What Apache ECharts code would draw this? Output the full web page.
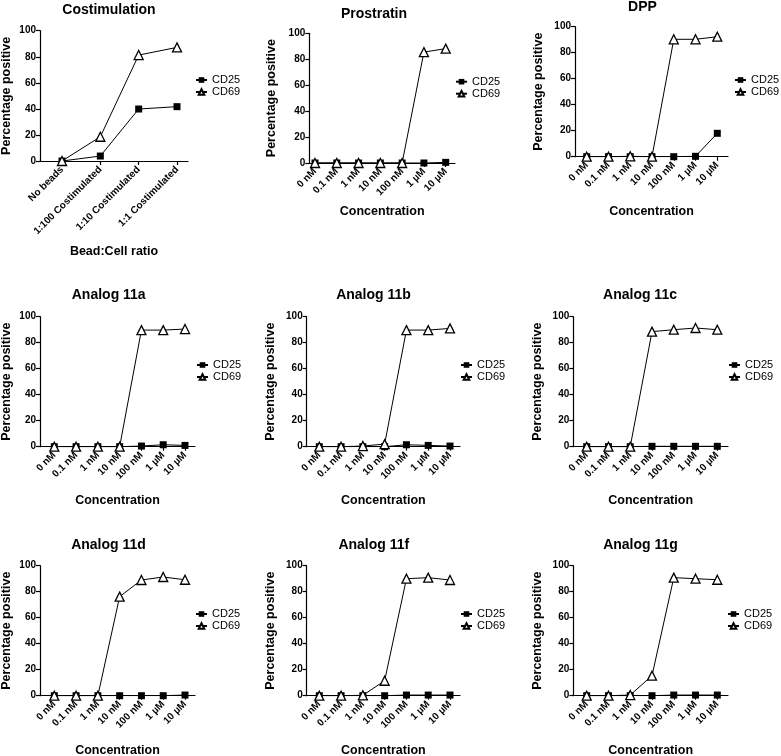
<!DOCTYPE html>
<html><head><meta charset="utf-8">
<script src="https://cdn.jsdelivr.net/npm/echarts@6/dist/echarts.min.js"></script>
<style>html,body{margin:0;padding:0;background:#fff}#c{width:781px;height:756px}</style>
</head><body><div id="c"></div>
<script>
// ---- categories ----
const costimCats = ['No beads', '1:100 Costimulated', '1:10 Costimulated', '1:1 Costimulated'];
const concCats = ['0 nM', '0.1 nM', '1 nM', '10 nM', '100 nM', '1 µM', '10 µM'];
const seriesNames = ['CD25', 'CD69'];

// ---- values (percentage positive) ----
const costimCD25 = [0, 3.8, 39.9, 41.7];
const costimCD69 = [0, 18.6, 81.3, 87.2];
const prostratinCD25 = [0, 0, 0, 0, 0, 0, 0.5];
const prostratinCD69 = [0, 0, 0, 0, 0, 85.5, 88.2];
const dppCD25 = [0, 0, 0, 0, 0, 0.3, 18];
const dppCD69 = [0, 0, 0.3, 0, 90.3, 90.3, 92.3];
const a11aCD25 = [0, 0, 0, 0, 0.5, 1.5, 1];
const a11aCD69 = [0, 0, 0, 0, 89.7, 89.7, 90.5];
const a11bCD25 = [0, 0, 0, 0, 1.5, 1, 0.5];
const a11bCD69 = [0, 0, 0.5, 2, 89.7, 89.7, 91];
const a11cCD25 = [0, 0, 0, 0.3, 0.3, 0.3, 0.3];
const a11cCD69 = [0, 0, 0, 88.5, 90, 91.3, 90];
const a11dCD25 = [0, 0, 0, 0, 0, 0, 0.5];
const a11dCD69 = [0, 0, 0, 76.2, 89, 91.3, 89.2];
const a11fCD25 = [0, 0, 0, 0, 0.5, 0.5, 0.5];
const a11fCD69 = [0, 0, 0.3, 11.5, 90, 90.8, 89];
const a11gCD25 = [0, 0, 0, 0, 0.5, 0.5, 0.5];
const a11gCD69 = [0, 0, 0.5, 15.4, 90.8, 90, 89.2];

const FONT = '"Liberation Sans", Arial, Helvetica, sans-serif';

// layout (pixels) per panel
const panels = [
  {title:'Costimulation', cats:costimCats, cd25:costimCD25, cd69:costimCD69, xName:'Bead:Cell ratio',
   axisX:40, firstX:62, lastX:177, endX:188, top:30.7, bottom:161, titleX:109, titleY:10, yNameGap:26.7, xNameGap:84, legX:195, legY:74},
  {title:'Prostratin', cats:concCats, cd25:prostratinCD25, cd69:prostratinCD69, xName:'Concentration',
   axisX:309.3, firstX:315, lastX:445.7, endX:455, top:33.3, bottom:163, titleX:374, titleY:14, yNameGap:31, xNameGap:42, legX:455, legY:75.7},
  {title:'DPP', cats:concCats, cd25:dppCD25, cd69:dppCD69, xName:'Concentration',
   axisX:575, firstX:586.7, lastX:717.3, endX:728, top:26.7, bottom:156.7, titleX:642.5, titleY:7.3, yNameGap:30, xNameGap:48.5, legX:734, legY:74},
  {title:'Analog 11a', cats:concCats, cd25:a11aCD25, cd69:a11aCD69, xName:'Concentration',
   axisX:40, firstX:54.3, lastX:185, endX:195, top:316.7, bottom:446.7, titleX:108.7, titleY:295, yNameGap:26.7, xNameGap:47, legX:196, legY:359},
  {title:'Analog 11b', cats:concCats, cd25:a11bCD25, cd69:a11bCD69, xName:'Concentration',
   axisX:306.7, firstX:319.3, lastX:450, endX:460, top:316.7, bottom:446.7, titleX:373.5, titleY:295.5, yNameGap:30, xNameGap:47, legX:460, legY:359},
  {title:'Analog 11c', cats:concCats, cd25:a11cCD25, cd69:a11cCD69, xName:'Concentration',
   axisX:573.3, firstX:586.7, lastX:717.3, endX:728, top:316.7, bottom:446.7, titleX:640, titleY:295, yNameGap:29, xNameGap:47, legX:728, legY:359},
  {title:'Analog 11d', cats:concCats, cd25:a11dCD25, cd69:a11dCD69, xName:'Concentration',
   axisX:40, firstX:54.3, lastX:185, endX:195, top:565.7, bottom:695.7, titleX:108.5, titleY:545, yNameGap:26.7, xNameGap:48, legX:195, legY:608},
  {title:'Analog 11f', cats:concCats, cd25:a11fCD25, cd69:a11fCD69, xName:'Concentration',
   axisX:306.7, firstX:319.3, lastX:450, endX:460, top:565.7, bottom:695.7, titleX:373.8, titleY:545, yNameGap:30, xNameGap:48, legX:460, legY:608},
  {title:'Analog 11g', cats:concCats, cd25:a11gCD25, cd69:a11gCD69, xName:'Concentration',
   axisX:573.3, firstX:586.7, lastX:717.3, endX:728, top:565.7, bottom:695.7, titleX:640.5, titleY:545, yNameGap:29, xNameGap:48, legX:727, legY:608}
];

const axisLineStyle = {color:'#000', width:1.2};
const grids = [], xAxes = [], yAxes = [], series = [], legends = [], graphics = [];

panels.forEach((p, i) => {
  const n = p.cats.length;
  const step = (p.lastX - p.firstX) / (n - 1);
  const idx = p.cats.map((c, k) => k);
  grids.push({left:p.axisX, top:p.top, width:p.endX - p.axisX, height:p.bottom - p.top,
              containLabel:false, outerBoundsMode:'none'});
  xAxes.push({
    type:'value', gridIndex:i,
    min:(p.axisX - p.firstX) / step, max:(p.endX - p.firstX) / step,
    axisLine:{show:true, onZero:false, lineStyle:axisLineStyle},
    axisTick:{show:true, customValues:idx, length:4, lineStyle:axisLineStyle},
    axisLabel:{customValues:idx, rotate:45, margin:7, color:'#000', fontWeight:'bold', fontSize:10, fontFamily:FONT,
               formatter:(v) => p.cats[Math.round(v)]},
    splitLine:{show:false},
    name:p.xName, nameLocation:'middle', nameGap:p.xNameGap,
    nameTextStyle:{color:'#000', fontWeight:'bold', fontSize:12.5, fontFamily:FONT}
  });
  yAxes.push({
    type:'value', gridIndex:i, min:0, max:100, interval:20,
    axisLine:{show:true, onZero:false, lineStyle:axisLineStyle},
    axisTick:{show:true, length:4, lineStyle:axisLineStyle},
    axisLabel:{margin:4, color:'#000', fontWeight:'bold', fontSize:10, fontFamily:FONT},
    splitLine:{show:false},
    name:'Percentage positive', nameLocation:'middle', nameGap:p.yNameGap, nameRotate:90,
    nameTextStyle:{color:'#000', fontWeight:'bold', fontSize:12.5, fontFamily:FONT}
  });
  series.push({
    name:seriesNames[0], type:'line', xAxisIndex:i, yAxisIndex:i,
    data:p.cd25.map((v, k) => [k, v]),
    symbol:'rect', symbolSize:7,
    itemStyle:{color:'#000'}, lineStyle:{color:'#000', width:1},
    animation:false
  });
  series.push({
    name:seriesNames[1], type:'line', xAxisIndex:i, yAxisIndex:i,
    data:p.cd69.map((v, k) => [k, v]),
    symbol:'triangle', symbolSize:9,
    itemStyle:{color:'#fff', borderColor:'#000', borderWidth:1.3}, lineStyle:{color:'#000', width:1},
    animation:false
  });
  legends.push({
    data:seriesNames, orient:'vertical', left:p.legX, top:p.legY, padding:0, itemGap:0,
    itemWidth:11, itemHeight:7, selectedMode:false,
    textStyle:{color:'#000', fontSize:11, lineHeight:12, fontFamily:FONT}
  });
  graphics.push({
    type:'text', x:p.titleX, y:p.titleY,
    style:{text:p.title, align:'center', verticalAlign:'middle', fill:'#000',
           font:'bold 14px ' + FONT}
  });
});

const chart = echarts.init(document.getElementById('c'), null, {renderer:'canvas'});
chart.setOption({
  backgroundColor:'#fff',
  animation:false,
  grid:grids, xAxis:xAxes, yAxis:yAxes, series:series, legend:legends,
  graphic:graphics
});
</script>
</body></html>
